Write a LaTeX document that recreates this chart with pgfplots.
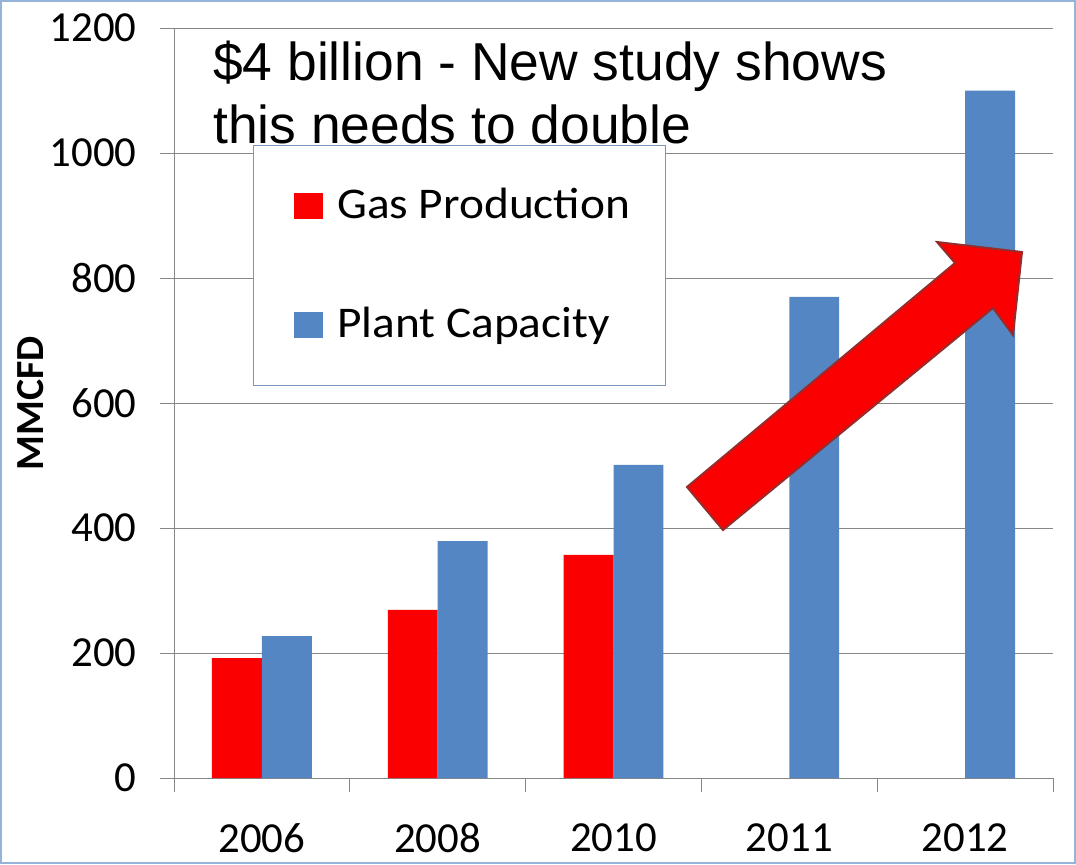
\documentclass[border=0pt]{standalone}
\usepackage{fontspec}
\setmainfont{Carlito}
\newfontfamily\arialfont{Liberation Sans}
\usepackage{graphicx}
\usepackage{pgfplots}
\pgfplotsset{compat=1.18}
\definecolor{barred}{RGB}{250,0,0}
\definecolor{barblue}{RGB}{84,134,196}
\definecolor{gridgray}{RGB}{134,134,134}
\definecolor{framebl}{RGB}{150,180,215}
\definecolor{legbord}{RGB}{120,150,190}
\definecolor{arrowedge}{RGB}{150,45,45}
\begin{document}
\begin{tikzpicture}
\useasboundingbox (0,0) rectangle (1076bp,-865bp);
\begin{axis}[
  at={(174bp,-778bp)}, anchor=south west,
  scale only axis, width=879bp, height=750bp,
  xmin=-0.5, xmax=4.5, ymin=0, ymax=1200,
  axis x line*=bottom, axis y line*=left,
  axis line style={gridgray, line width=1bp, -},
  ytick={0,200,...,1200},
  ymajorgrids, grid style={gridgray, line width=1bp},
  xtick={0,1,2,3,4},
  xticklabels={2006,2008,2010,2011,2012},
  minor xtick={-0.5,0.5,1.5,2.5,3.5,4.5},
  major x tick style={draw=none},
  tick align=outside, major tick length=14bp, minor tick length=14bp,
  tick style={gridgray, line width=1bp},
  /pgf/number format/.cd, 1000 sep={}, assume math mode=true, /pgfplots/.cd,
  x tick label style={font=\fontsize{43}{50}\selectfont, yshift=-28bp},
  y tick label style={font=\fontsize{43}{50}\selectfont, xshift=-20bp},
  clip=false,
]
\addplot[ybar, bar width=0.284, bar shift=-0.142, fill=barred, draw=none]
  coordinates {(0,192) (1,269) (2,357)};
\addplot[ybar, bar width=0.284, bar shift=0.142, fill=barblue, draw=none]
  coordinates {(0,227) (1,379) (2,501) (3,770) (4,1100)};
\end{axis}
\begin{scope}[x=1bp, y=-1bp]
  % legend box
  \draw[legbord, fill=white, line width=1bp] (253,145) rectangle (665,385);
  \fill[barred] (294,193) rectangle (323,219);
  \fill[barblue] (294,312) rectangle (323,338);
  \node[anchor=base west, inner sep=0, font=\fontsize{44}{50}\selectfont] at (337,218) {\scalebox{1.08}[1]{Gas Production}};
  \node[anchor=base west, inner sep=0, font=\fontsize{44}{50}\selectfont] at (337,337) {\scalebox{1.08}[1]{Plant Capacity}};
  % title text
  \node[anchor=base west, inner sep=0, font=\arialfont\fontsize{53.6}{63}\selectfont] at (213,80) {\$4 billion - New study shows};
  \node[anchor=base west, inner sep=0, font=\arialfont\fontsize{53.6}{63}\selectfont] at (213,143) {this needs to double};
  % y label
  \node[rotate=90, inner sep=0, font=\bfseries\fontsize{40}{48}\selectfont] at (31,403) {MMCFD};
  % arrow
  \filldraw[fill=barred, draw=arrowedge, line width=2bp, line join=miter]
    (687,487) -- (955,263) -- (937,242) -- (1022,252) -- (1013,335) -- (993,308) -- (723,530) -- cycle;
  % frame
  \draw[framebl, line width=2bp] (1,1) rectangle (1075,863);
\end{scope}
\end{tikzpicture}
\end{document}
